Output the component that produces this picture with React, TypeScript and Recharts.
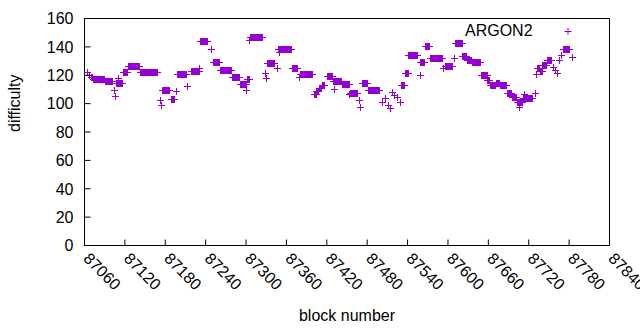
import { Scatter, ScatterChart, XAxis, YAxis } from 'recharts'

// runs of blocks that share one difficulty: [start, end)
const runStart = [
  87070, 87073, 87091, 87108, 87118, 87125, 87143, 87176, 87189, 87198,
  87219, 87232, 87252, 87262, 87280, 87292, 87302, 87307, 87332, 87348,
  87369, 87381, 87401, 87405, 87409, 87413, 87421, 87430, 87443, 87455,
  87473, 87482, 87531, 87537, 87542, 87559, 87566, 87574, 87596, 87611,
  87622, 87629, 87636, 87650, 87659, 87663, 87672, 87678, 87688, 87696,
  87703, 87712, 87733, 87737, 87741, 87748, 87772,
]
const runEnd = [
  87073, 87091, 87103, 87118, 87125, 87143, 87170, 87188, 87194, 87212,
  87232, 87244, 87262, 87280, 87292, 87302, 87306, 87326, 87344, 87369,
  87378, 87400, 87405, 87409, 87413, 87418, 87430, 87443, 87455, 87466,
  87482, 87500, 87537, 87542, 87556, 87566, 87574, 87593, 87608, 87622,
  87629, 87636, 87650, 87659, 87663, 87672, 87678, 87688, 87696, 87703,
  87712, 87727, 87737, 87741, 87748, 87755, 87782,
]
const runValue = [
  118.6, 117, 115.6, 114.4, 122, 126.2, 121.7, 109.2, 103.2, 120.5,
  122.9, 143.8, 128.8, 123.3, 118.2, 113.5, 117, 146.4, 128, 138,
  124.5, 120.3, 106.5, 108.5, 110.5, 112.7, 119.1, 115.6, 113.5, 107,
  114.4, 109.2, 112.8, 121.4, 133.9, 128.8, 140.3, 131.6, 126.2, 142.2,
  133.2, 130.4, 129.2, 119.8, 116.3, 112.8, 114.4, 112.8, 107, 104.1,
  101, 103.4, 124.5, 122.9, 126.9, 130.4, 138,
]

// lone blocks
const singleBlock = [
  87064, 87067, 87105, 87106, 87111, 87173, 87174, 87197, 87213, 87231,
  87249, 87300, 87305, 87329, 87330, 87347, 87350, 87379, 87431, 87454,
  87469, 87470, 87503, 87507, 87511, 87514, 87518, 87521, 87525, 87529,
  87559, 87594, 87610, 87707, 87713, 87730, 87731, 87757, 87760, 87763,
  87765, 87769, 87785,
]
const singleValue = [
  122, 120, 109, 105, 117.7, 102, 98.6, 108.5, 112, 125,
  138.2, 109.2, 144.5, 121, 117.7, 124.7, 136, 118.6, 110, 106.4,
  102.2, 97.5, 101, 103.6, 98.7, 96.8, 108, 105.7, 104.3, 101,
  119.8, 124.5, 131.6, 97.5, 106.5, 107, 120.5, 125.7, 123.5, 121,
  130.4, 133.9, 132.7,
]

const xTicks = [87060, 87120, 87180, 87240, 87300, 87360, 87420, 87480, 87540, 87600, 87660, 87720, 87780, 87840]
const yTicks = [0, 20, 40, 60, 80, 100, 120, 140, 160]

const points: { block: number; difficulty: number }[] = []
runStart.forEach((start, i) => {
  for (let b = start; b < runEnd[i]; b++) points.push({ block: b, difficulty: runValue[i] })
})
singleBlock.forEach((b, i) => points.push({ block: b, difficulty: singleValue[i] }))

const PURPLE = '#9400d3'
const FONT = '"Liberation Sans", Arial, sans-serif'

function Cross(props: any) {
  const x = Math.floor(props.cx) + 0.5
  const y = Math.floor(props.cy) + 0.5
  return <path d={`M${x - 3.5},${y}h7M${x},${y - 3.5}v7`} stroke={PURPLE} strokeWidth={1} fill="none" />
}

function BottomTick({ x, y, payload }: any) {
  return (
    <g>
      <line x1={x} x2={x} y1={y} y2={y - 6} stroke="#000" />
      <text transform={`translate(${x - 2},${y + 14}) rotate(45)`} fontSize={16} fontFamily={FONT} fill="#000">
        {payload.value}
      </text>
    </g>
  )
}

function TopTick({ x, y }: any) {
  return <line x1={x} x2={x} y1={y} y2={y + 6} stroke="#000" />
}

function LeftTick({ x, y, payload }: any) {
  return (
    <g>
      <line x1={x} x2={x + 6} y1={y} y2={y} stroke="#000" />
      <text x={x - 11} y={y} dy="0.36em" textAnchor="end" fontSize={16} fontFamily={FONT} fill="#000">
        {payload.value}
      </text>
    </g>
  )
}

function RightTick({ x, y }: any) {
  return <line x1={x} x2={x - 6} y1={y} y2={y} stroke="#000" />
}

export default function App() {
  return (
    <div style={{ position: 'absolute', left: 0, top: 0, background: '#fff' }}>
      <ScatterChart width={640} height={330} margin={{ top: 0.5, right: 0.5, bottom: 0.5, left: 0.5 }}>
        <XAxis
          dataKey="block"
          type="number"
          domain={[87060, 87840]}
          ticks={xTicks}
          height={84}
          tickSize={0}
          tickMargin={0}
          tick={<BottomTick />}
          stroke="#000"
          interval={0}
          label={{ value: 'block number', position: 'insideBottom', offset: 9, fontSize: 16, fontFamily: FONT, fill: '#000' }}
        />
        <XAxis
          xAxisId="top"
          orientation="top"
          type="number"
          domain={[87060, 87840]}
          ticks={xTicks}
          height={18}
          tickSize={0}
          tickMargin={0}
          tick={<TopTick />}
          stroke="#000"
          interval={0}
        />
        <YAxis
          dataKey="difficulty"
          type="number"
          domain={[0, 160]}
          ticks={yTicks}
          width={84}
          tickSize={0}
          tickMargin={0}
          tick={<LeftTick />}
          stroke="#000"
          interval={0}
          label={{ value: 'difficulty', angle: -90, position: 'insideLeft', offset: 14, fontSize: 16, fontFamily: FONT, fill: '#000' }}
        />
        <YAxis
          yAxisId="right"
          orientation="right"
          type="number"
          domain={[0, 160]}
          ticks={yTicks}
          width={30}
          tickSize={0}
          tickMargin={0}
          tick={<RightTick />}
          stroke="#000"
          interval={0}
        />
        <Scatter name="ARGON2" data={points} shape={<Cross />} isAnimationActive={false} />
      </ScatterChart>
      <div
        style={{
          position: 'absolute',
          left: 465,
          top: 22,
          display: 'flex',
          alignItems: 'center',
          font: `16px ${FONT}`,
          color: '#000',
        }}
      >
        <span>ARGON2</span>
        <svg width={44} height={10}>
          <path d="M31.5,5.5h7M35,2v7" stroke={PURPLE} strokeWidth={1} />
        </svg>
      </div>
    </div>
  )
}
